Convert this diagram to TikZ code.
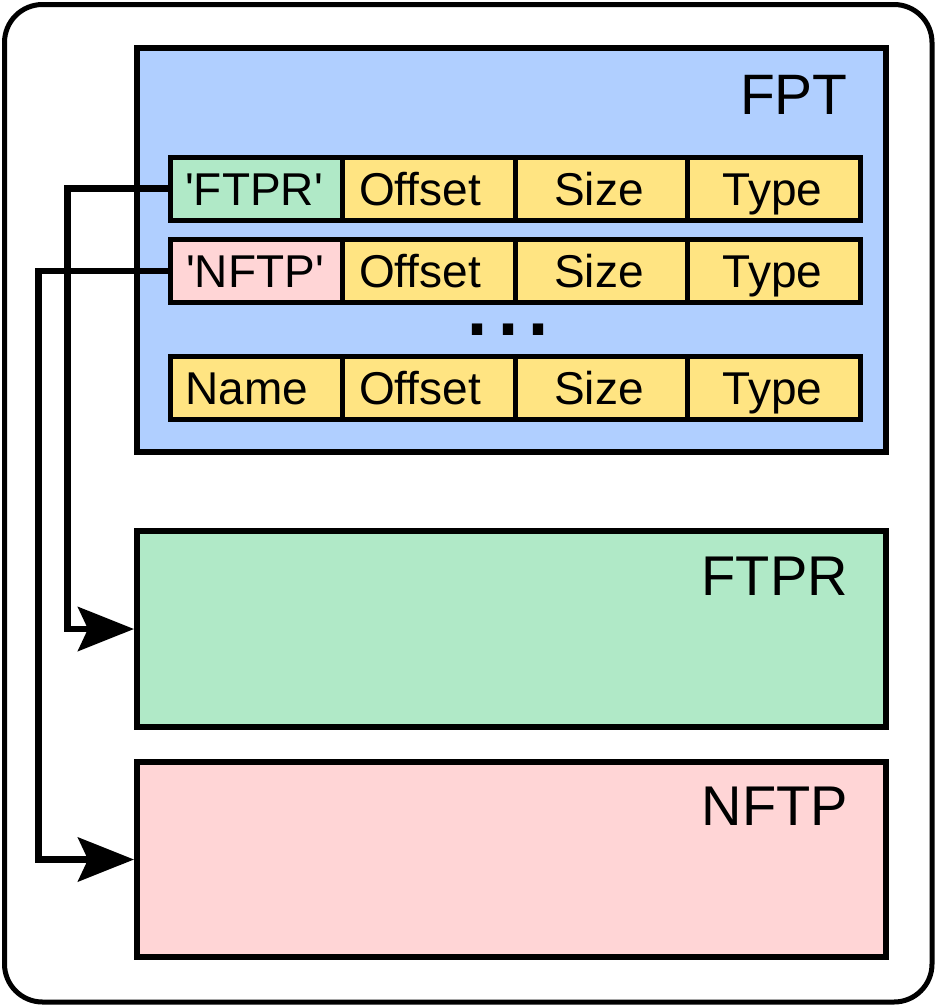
\documentclass[tikz,border=0pt]{standalone}
\usepackage{fontspec}
\setmainfont{Liberation Sans}
\usetikzlibrary{arrows.meta}

\definecolor{fptblue}{HTML}{B0CFFF}
\definecolor{ftprgreen}{HTML}{B0E9C7}
\definecolor{nftppink}{HTML}{FFD5D6}
\definecolor{fieldyellow}{HTML}{FFE482}

\begin{document}
\begin{tikzpicture}[x=1pt,y=-1pt,
  region/.style={draw, line width=6pt, inner sep=0pt, minimum width=748.5pt},
  field/.style={draw, line width=5pt, fill=fieldyellow, inner sep=0pt,
    minimum width=172.5pt, minimum height=63pt},
  fieldtext/.style={font=\fontsize{46}{50}\selectfont, inner sep=0pt, anchor=base},
  bigtext/.style={font=\fontsize{56}{60}\selectfont, inner sep=0pt, anchor=base east},
  conn/.style={line width=6.5pt, -{Stealth[length=56pt,width=44pt,inset=10pt]}}
]
\useasboundingbox (0,0) rectangle (937,1007);

% outer frame
\draw[line width=5pt, rounded corners=38pt] (4.5,4.5) rectangle (932,1002);

% flash partition table
\node[region, fill=fptblue, minimum height=404pt] (fpt) at (511.25,250) {};
\node[bigtext, font=\fontsize{57}{60}\selectfont] (fptlbl) at (848,114) {FPT};

% table entries
\node[field, fill=ftprgreen] (r1c1) at (256.25,188.5) {};
\node[field] (r1c2) at (428.75,188.5) {};
\node[field] (r1c3) at (601.25,188.5) {};
\node[field] (r1c4) at (773.75,188.5) {};

\node[field, fill=nftppink] (r2c1) at (256.25,270.75) {};
\node[field] (r2c2) at (428.75,270.75) {};
\node[field] (r2c3) at (601.25,270.75) {};
\node[field] (r2c4) at (773.75,270.75) {};

\node[field] (r3c1) at (256.25,387.5) {};
\node[field] (r3c2) at (428.75,387.5) {};
\node[field] (r3c3) at (601.25,387.5) {};
\node[field] (r3c4) at (773.75,387.5) {};

% entry texts
\node[fieldtext] (t11) at (254,205) {\textquotesingle FTPR\textquotesingle};
\node[fieldtext] (t12) at (420,205) {Offset};
\node[fieldtext] (t13) at (599,205) {Size};
\node[fieldtext] (t14) at (772.5,205) {Type};

\node[fieldtext] (t21) at (255,287.25) {\textquotesingle NFTP\textquotesingle};
\node[fieldtext] (t22) at (420,287.25) {Offset};
\node[fieldtext] (t23) at (599,287.25) {Size};
\node[fieldtext] (t24) at (772.5,287.25) {Type};

\node[fieldtext] (t31) at (247,404) {Name};
\node[fieldtext] (t32) at (420,404) {Offset};
\node[fieldtext] (t33) at (599,404) {Size};
\node[fieldtext] (t34) at (772.5,404) {Type};

% ellipsis between the entries
\node[font=\fontsize{108}{110}\selectfont, inner sep=0pt, anchor=base,
  text height=11pt, text depth=0pt] (dots) at (508,335) {...};

% partitions
\node[region, fill=ftprgreen, minimum height=196pt] (ftpr) at (511.25,629) {};
\node[bigtext] (ftprlbl) at (848,595) {FTPR};
\node[region, fill=nftppink, minimum height=195pt] (nftp) at (511.25,859.5) {};
\node[bigtext] (nftplbl) at (848,825) {NFTP};

% links from entries to partitions
\coordinate (bend1) at (67.5,188.5);
\coordinate (bend2) at (38.5,270.75);
\draw[conn] (r1c1.west) -- (bend1) |- (ftpr.west);
\draw[conn] (r2c1.west) -- (bend2) |- (nftp.west);
\end{tikzpicture}
\end{document}
